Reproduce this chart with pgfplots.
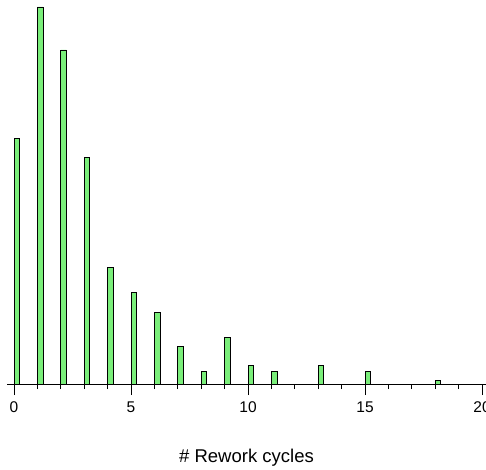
\documentclass[border=0pt]{standalone}
\usepackage{pgfplots}
\pgfplotsset{compat=1.18}
\usepackage{fontspec}
\setmainfont{Liberation Sans}
\definecolor{barfill}{RGB}{122,238,122}
\begin{document}
\begin{tikzpicture}[x=1pt,y=1pt]
\begin{axis}[
  anchor=south west, at={(7pt,85pt)},
  scale only axis,
  width=479pt, height=384pt,
  xmin=-0.3, xmax=20.17,
  ymin=0, ymax=384,
  axis x line=bottom,
  axis y line=none,
  x axis line style={-, line width=0.9pt},
  xtick={0,5,10,15,20},
  minor x tick num=4,
  tick align=outside,
  major tick length=11pt,
  minor tick length=5pt,
  every tick/.style={black, line width=0.8pt},
  ticklabel style={font=\fontsize{15.5}{15.5}\selectfont},
  xticklabel style={anchor=base, yshift=-17pt},
  /pgf/number format/assume math mode=true,
  xlabel={\# Rework cycles},
  xlabel style={font=\fontsize{18.5}{18.5}\selectfont, at={(axis description cs:0.5,0)}, anchor=base, yshift=-78.7pt},
  clip=false,
]
\addplot[ybar, bar width=5.5pt, bar shift=2.75pt, fill=barfill, draw=black, line width=0.8pt]
coordinates {
(0,245.7) (1,377) (2,334) (3,227) (4,116.3) (5,92) (6,71.7) (7,37.3) (8,12.7) (9,46.7) (10,18.7) (11,12.7) (13,18.7) (15,12.7) (18,3.7)
};
\end{axis}
\pgfresetboundingbox
\useasboundingbox (0,0) rectangle (486pt,469pt);
\end{tikzpicture}
\end{document}
